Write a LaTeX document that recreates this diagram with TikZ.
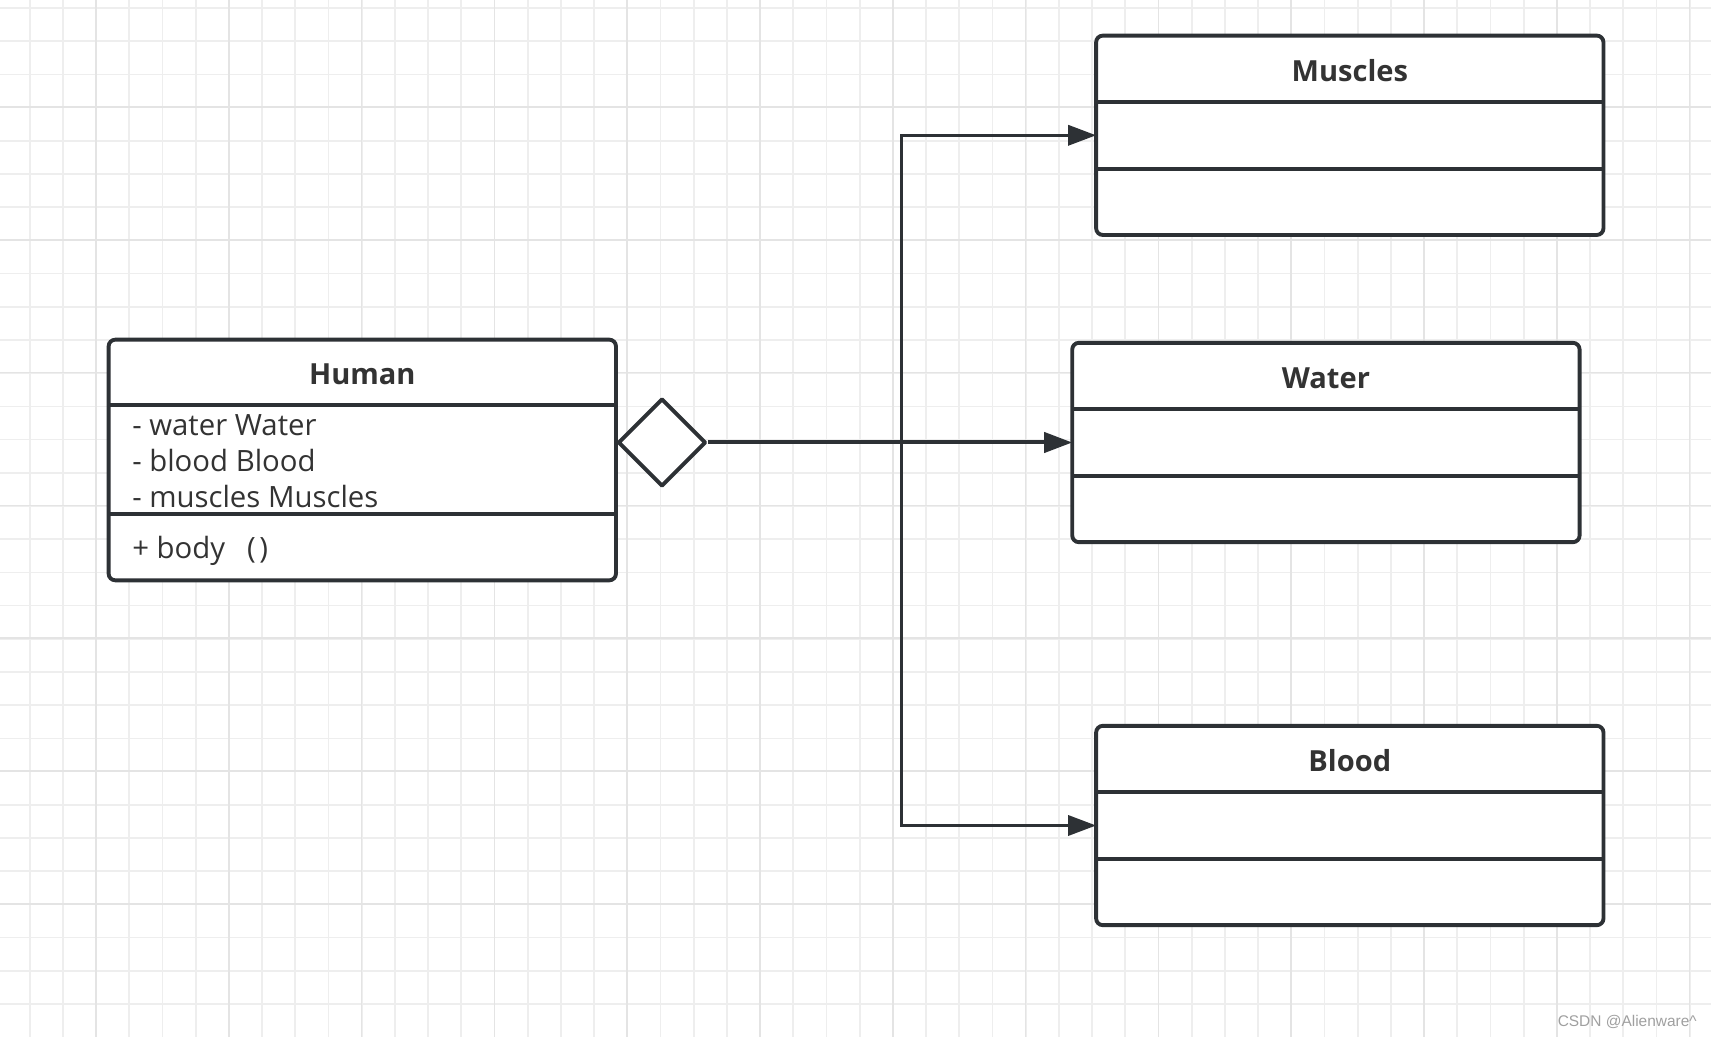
\documentclass[tikz,border=0pt]{standalone}
\usepackage{fontspec}
\setmainfont{Open Sans}
\newfontfamily\wmfont{Liberation Sans}
\usetikzlibrary{arrows.meta,shapes.geometric,calc}
\definecolor{ink}{RGB}{45,49,53}
\definecolor{txt}{RGB}{51,51,51}
\definecolor{gridminor}{RGB}{238,238,238}
\definecolor{gridmajor}{RGB}{228,228,228}
\definecolor{wm}{RGB}{160,160,160}
\begin{document}
\begin{tikzpicture}[x=0.75pt,y=-0.75pt,
  classbox/.style={draw=ink, line width=2.9pt, rounded corners=5pt, fill=white,
    minimum width=380.5pt, minimum height=149.5pt, inner sep=0pt, outer sep=0pt},
  divider/.style={draw=ink, line width=2.9pt},
  title/.style={font=\fontsize{21.8}{26}\selectfont\bfseries, text=txt, anchor=base, inner sep=0pt},
  attr/.style={font=\fontsize{22}{26}\selectfont, text=txt, anchor=base west, inner sep=0pt},
  conn/.style={draw=ink, line width=2.6pt, -{Triangle[length=21pt,width=15pt]}},
  agg/.style={diamond, draw=ink, line width=2.9pt, line join=round, fill=white,
    minimum width=66pt, minimum height=66pt, inner sep=0pt, aspect=1},
  minorgrid/.style={draw=gridminor, line width=1.3pt},
  majorgrid/.style={draw=gridmajor, line width=1.3pt}]
% background and grid
\fill[white] (0,0) rectangle (1711,1037);
\useasboundingbox (0,0) rectangle (1711,1037);
\foreach \k in {0,...,50} \draw[minorgrid] ({29.7+33.2*\k},0) -- ++(0,1037);
\foreach \k in {0,...,30} \draw[minorgrid] (0,{8+33.2*\k}) -- ++(1711,0);
\foreach \k in {0,...,12} \draw[majorgrid] ({96+132.8*\k},0) -- ++(0,1037);
\foreach \k in {0,...,6} \draw[majorgrid] (0,{107+132.8*\k}) -- ++(1711,0);

% Human class
\node[classbox, minimum height=180.5pt] (human) at (362.3,460) {};
\draw[divider] ($(human.north west)+(0,65.4)$) -- ($(human.north east)+(0,65.4)$);
\draw[divider] ($(human.south west)+(0,-66.4)$) -- ($(human.south east)+(0,-66.4)$);
\node[title] (humant) at ($(human.north)+(0,45)$) {Human};
\node[attr] (a1) at (132,436) {- water Water};
\node[attr] (a2) at (132,472) {- blood Blood};
\node[attr] (a3) at (132,508) {- muscles Muscles};
\node[attr] (m1) at (132,558.5) {+ body\hspace{0.75em}(\hspace{0.12em})};

% other classes
\node[classbox] (muscles) at (1349.8,135.3) {};
\node[classbox] (water) at (1325.9,442.5) {};
\node[classbox] (blood) at (1349.8,825.5) {};
\foreach \b/\t in {muscles/Muscles, water/Water, blood/Blood}{
  \draw[divider] ($(\b.north west)+(0,66.2)$) -- ($(\b.north east)+(0,66.2)$);
  \draw[divider] ($(\b.south west)+(0,-66.2)$) -- ($(\b.south east)+(0,-66.2)$);
  \node[title] (\b t) at ($(\b.north)+(0,45.5)$) {\t};
}

% aggregation diamond and connectors
\node[agg] (dia) at (662,442.5) {};
\coordinate (J) at (901.3,442.5);
\draw[conn, line width=3pt] (dia.east) -- (water.west);
\draw[conn] (J) |- (muscles.west);
\draw[conn] (J) |- (blood.west);

% watermark
\node[font=\wmfont\fontsize{11.6}{14}\selectfont, text=wm, anchor=east, inner sep=0pt] (wm) at (1697,1022) {CSDN @Alienware\textasciicircum};
\end{tikzpicture}
\end{document}
